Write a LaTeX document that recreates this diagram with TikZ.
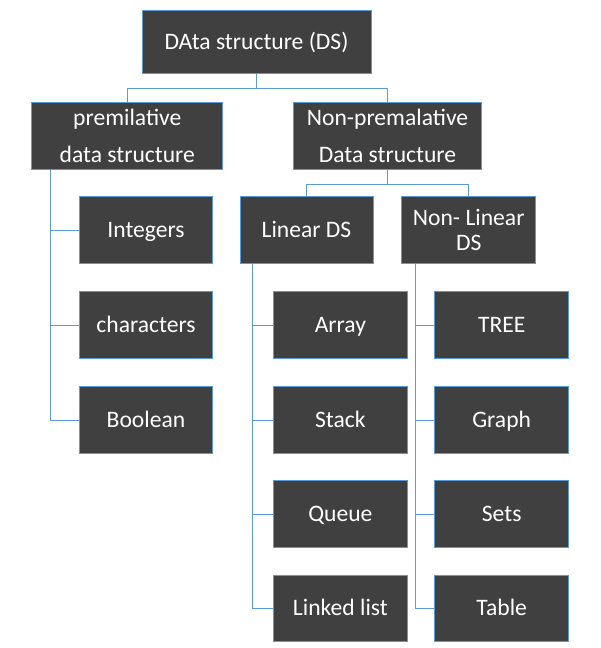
\documentclass[tikz,border=0pt]{standalone}
\usepackage{fontspec}
\setmainfont{Carlito}
\definecolor{boxfill}{HTML}{404040}
\definecolor{edge}{HTML}{5B9BD5}
\begin{document}
\begin{tikzpicture}[x=1pt,y=-1pt,
  box/.style={draw=edge, line width=1pt, fill=boxfill, text=white, inner sep=0pt,
    font=\fontsize{23.6}{37}\selectfont, align=center},
  single/.style={text height=14pt, text depth=0pt},
  leaf/.style={box, single, minimum width=133.5pt, minimum height=66.5pt},
  link/.style={draw=edge, line width=1pt}]
\useasboundingbox (0,0) rectangle (600,648);
% nodes
\node[box, single, minimum width=229pt, minimum height=63.5pt, text height=15pt] (root) at (256.5,41.75) {DAta structure (DS)};
\node[box, minimum width=191.3pt, minimum height=66.3pt] (prem) at (127.3,136) {premilative\\data structure};
\node[box, minimum width=188.4pt, minimum height=66.3pt] (nonprem) at (387.5,136) {Non-premalative\\Data structure};
\node[leaf] (int) at (146,230) {Integers};
\node[leaf] (chr) at (146,325) {characters};
\node[leaf] (bool) at (146,420) {Boolean};
\node[leaf, minimum width=133pt] (lin) at (306.5,230) {Linear DS};
\node[box, minimum width=134pt, minimum height=66.5pt, font=\fontsize{23.6}{25.3}\selectfont] (nlin) at (468.7,230) {Non- Linear\\DS};
\node[leaf] (arr) at (340.4,325) {Array};
\node[leaf] (stk) at (340.4,420) {Stack};
\node[leaf] (que) at (340.4,514) {Queue};
\node[leaf] (lst) at (340.4,608.5) {Linked list};
\node[leaf] (tree) at (501.7,325) {TREE};
\node[leaf] (graph) at (501.7,420) {Graph};
\node[leaf] (sets) at (501.7,514) {Sets};
\node[leaf] (tab) at (501.7,608.5) {Table};
% connectors
\coordinate (rj) at (256.5,88);
\draw[link] (root.south) -- (rj);
\draw[link] (prem.north) |- (rj);
\draw[link] (nonprem.north) |- (rj);
\coordinate (nj) at (387.5,184);
\draw[link] (nonprem.south) -- (nj);
\draw[link] (lin.north) |- (nj);
\draw[link] (nlin.north) |- (nj);
\foreach \t in {int,chr,bool}
  \draw[link] ([xshift=19pt]prem.south west) |- (\t.west);
\foreach \t in {arr,stk,que,lst}
  \draw[link] ([xshift=13.3pt]lin.south west) |- (\t.west);
\foreach \t in {tree,graph,sets,tab}
  \draw[link] ([xshift=14pt]nlin.south west) |- (\t.west);
\end{tikzpicture}
\end{document}
